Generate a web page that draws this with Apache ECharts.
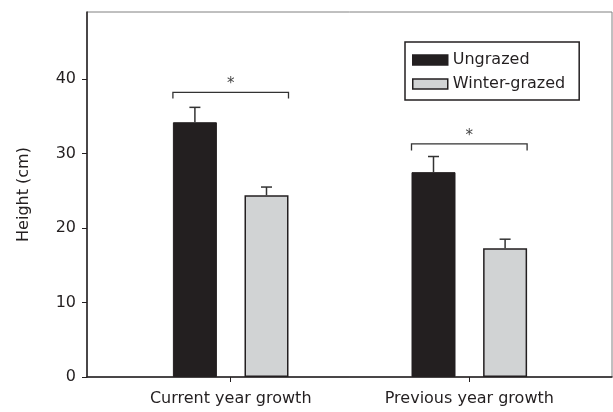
<!DOCTYPE html>
<html>
<head>
<meta charset="utf-8">
<script src="https://cdn.jsdelivr.net/npm/echarts@6/dist/echarts.min.js"></script>
<style>
html,body{margin:0;padding:0;background:#fff;}
#main{width:613px;height:412px;}
</style>
</head>
<body>
<div id="main"></div>
<script>
// ---- data ----
const categories = ['Current year growth', 'Previous year growth'];
const seriesNames = ['Ungrazed', 'Winter-grazed'];
const ungrazed = [34.2, 27.5];
const winterGrazed = [24.4, 17.3];
const ungrazedErr = [2.0, 2.1];
const winterErr = [1.1, 1.2];
const bracketLevel = [38.2, 31.3];
const bracketDrop = [0.8, 0.9];
const yTickValues = [0, 10, 20, 30, 40];

// ---- style ----
const FONT = 'DejaVu Sans';
const INK = '#231f20';
const BAR_W = 44;
const GAP_PX = 27.6;
const HALF_PITCH = (BAR_W + GAP_PX) / 2;
const BRACKET_HALF = BAR_W + GAP_PX / 2;

const errData = [];
ungrazed.forEach((v, i) => errData.push([i, v, ungrazedErr[i], -1]));
winterGrazed.forEach((v, i) => errData.push([i, v, winterErr[i], 1]));
const bracketData = bracketLevel.map((v, i) => [i, v, bracketDrop[i]]);

const chart = echarts.init(document.getElementById('main'), null, {renderer: 'canvas'});
chart.setOption({
  animation: false,
  backgroundColor: '#fff',
  textStyle: {fontFamily: FONT},
  grid: [
    {left: 87, right: 1, top: 12, bottom: 35, show: true, borderColor: '#808080', borderWidth: 1, backgroundColor: 'transparent'},
    {left: 111.4, right: 24.4, top: 12, bottom: 35}
  ],
  legend: {
    orient: 'vertical', left: 405, top: 42,
    padding: [10, 14, 8, 7],
    itemWidth: 35, itemHeight: 10, itemGap: 8,
    borderColor: INK, borderWidth: 1.5,
    textStyle: {fontFamily: FONT, fontSize: 16, color: INK},
    data: [
      {name: seriesNames[0], icon: 'rect', itemStyle: {color: INK, borderColor: INK, borderWidth: 1.5}},
      {name: seriesNames[1], icon: 'rect', itemStyle: {color: '#d1d3d4', borderColor: INK, borderWidth: 1.5}}
    ]
  },
  xAxis: [
    {gridIndex: 0, type: 'value', min: 0, max: 1,
     axisLine: {show: true, lineStyle: {color: INK, width: 1.5}},
     axisTick: {show: false}, axisLabel: {show: false}, splitLine: {show: false}},
    {gridIndex: 1, type: 'category', data: categories,
     axisLine: {show: false},
     axisTick: {show: true, alignWithLabel: true, length: 5, lineStyle: {color: INK, width: 1}},
     axisLabel: {fontFamily: FONT, fontSize: 16, color: INK, margin: 14},
     splitLine: {show: false}}
  ],
  yAxis: [
    {gridIndex: 0, type: 'value', min: 0, max: 49, interval: 10,
     name: 'Height (cm)', nameLocation: 'middle', nameGap: 55,
     nameTextStyle: {fontFamily: FONT, fontSize: 16, color: INK},
     axisLine: {show: true, lineStyle: {color: INK, width: 1.5}},
     axisTick: {show: true, length: 5, customValues: yTickValues, lineStyle: {color: INK, width: 1}},
     axisLabel: {fontFamily: FONT, fontSize: 16, color: INK, margin: 11, customValues: yTickValues},
     splitLine: {show: false}},
    {gridIndex: 1, type: 'value', min: 0, max: 49, show: false, splitLine: {show: false}}
  ],
  series: [
    {name: seriesNames[0], type: 'bar', xAxisIndex: 1, yAxisIndex: 1,
     barWidth: BAR_W, barGap: (GAP_PX / BAR_W * 100) + '%',
     itemStyle: {color: INK, borderColor: INK, borderWidth: 1},
     data: ungrazed},
    {name: seriesNames[1], type: 'bar', xAxisIndex: 1, yAxisIndex: 1,
     barWidth: BAR_W, barGap: (GAP_PX / BAR_W * 100) + '%',
     itemStyle: {color: '#d1d3d4', borderColor: INK, borderWidth: 1.5},
     data: winterGrazed},
    {name: 'err', type: 'custom', xAxisIndex: 1, yAxisIndex: 1, z: 5,
     encode: {x: 0, y: 1},
     data: errData,
     renderItem: function (params, api) {
       const cat = api.value(0), v = api.value(1), e = api.value(2), side = api.value(3);
       const base = api.coord([cat, v]);
       const top = api.coord([cat, v + e]);
       const x = base[0] + side * HALF_PITCH;
       const st = {stroke: '#333', lineWidth: 1.5};
       return {type: 'group', children: [
         {type: 'line', shape: {x1: x, y1: base[1], x2: x, y2: top[1]}, style: st},
         {type: 'line', shape: {x1: x - 5.5, y1: top[1], x2: x + 5.5, y2: top[1]}, style: st}
       ]};
     }},
    {name: 'sig', type: 'custom', xAxisIndex: 1, yAxisIndex: 1, z: 5,
     encode: {x: 0, y: 1},
     data: bracketData,
     renderItem: function (params, api) {
       const cat = api.value(0), v = api.value(1), d = api.value(2);
       const p = api.coord([cat, v]);
       const q = api.coord([cat, v - d]);
       const xl = p[0] - BRACKET_HALF, xr = p[0] + BRACKET_HALF;
       return {type: 'group', children: [
         {type: 'polyline', shape: {points: [[xl, q[1]], [xl, p[1]], [xr, p[1]], [xr, q[1]]]},
          style: {stroke: '#333', lineWidth: 1.3, fill: null}},
         {type: 'text', x: p[0], y: p[1] - 0.5,
          style: {text: '*', fontFamily: FONT, fontSize: 15, fill: '#444', align: 'center', verticalAlign: 'bottom'}}
       ]};
     }}
  ]
});
</script>
</body>
</html>
